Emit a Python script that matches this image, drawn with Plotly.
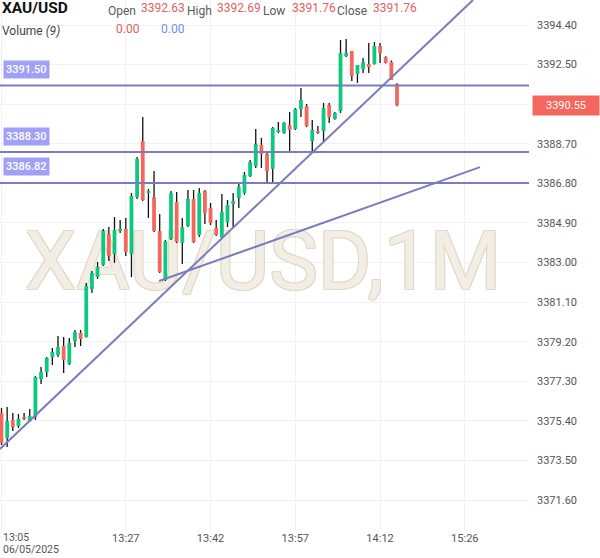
import plotly.graph_objects as go

# ---------------- data ----------------
opens = [3375.78, 3374.58, 3375.44, 3375.15, 3375.58, 3375.39, 3375.58, 3377.41, 3377.74, 3378.46,
         3378.56, 3378.99, 3378.13, 3379.23, 3379.62, 3379.42, 3381.73, 3382.30, 3382.88, 3384.37,
         3383.41, 3384.51, 3384.61, 3383.41, 3386.14, 3388.83, 3386.34, 3386.14, 3384.51, 3382.16,
         3384.13, 3385.90, 3383.94, 3384.75, 3386.05, 3384.32, 3386.43, 3385.62, 3384.66, 3384.22,
         3384.94, 3385.81, 3386.10, 3386.34, 3387.15, 3387.63, 3388.64, 3388.21, 3387.49, 3389.26,
         3389.22, 3389.60, 3389.41, 3390.37, 3390.51, 3388.83, 3389.31, 3389.31, 3390.56, 3389.89,
         3390.27, 3392.91, 3393.15, 3392.05, 3392.29, 3392.53, 3392.53, 3393.39, 3392.86, 3392.63,
         3391.55]
highs = [3376.02, 3376.06, 3375.78, 3375.73, 3375.78, 3375.97, 3377.55, 3377.98, 3378.46, 3378.90,
         3379.47, 3379.42, 3379.38, 3379.76, 3379.76, 3382.02, 3382.59, 3383.02, 3384.61, 3384.70,
         3385.18, 3385.04, 3385.14, 3386.34, 3388.06, 3389.98, 3386.53, 3387.39, 3385.33, 3384.08,
         3386.43, 3386.38, 3385.14, 3386.48, 3386.48, 3386.58, 3386.48, 3385.86, 3385.04, 3386.29,
         3386.00, 3386.34, 3386.82, 3387.34, 3387.92, 3389.41, 3388.98, 3388.30, 3389.50, 3389.74,
         3389.74, 3390.22, 3390.42, 3391.38, 3390.61, 3389.84, 3389.55, 3390.66, 3390.66, 3390.22,
         3393.68, 3393.73, 3393.15, 3392.48, 3392.82, 3393.54, 3393.58, 3393.54, 3392.90, 3392.69,
         3391.60]
lows = [3374.24, 3374.14, 3374.91, 3375.06, 3375.44, 3375.34, 3375.44, 3377.17, 3377.50, 3378.08,
        3378.46, 3377.70, 3378.08, 3378.94, 3378.99, 3379.40, 3381.54, 3382.21, 3382.83, 3383.07,
        3382.98, 3384.42, 3383.31, 3382.30, 3386.05, 3385.95, 3385.14, 3384.46, 3382.50, 3382.11,
        3384.08, 3383.94, 3382.93, 3384.70, 3383.94, 3384.22, 3384.85, 3384.80, 3384.27, 3384.18,
        3384.70, 3384.66, 3385.62, 3386.25, 3387.10, 3387.54, 3387.54, 3386.82, 3386.82, 3389.22,
        3389.18, 3388.35, 3389.36, 3389.98, 3389.50, 3388.26, 3389.17, 3388.74, 3389.70, 3389.85,
        3390.18, 3392.87, 3391.71, 3391.62, 3392.10, 3392.10, 3392.50, 3392.58, 3392.55, 3391.76,
        3390.50]
closes = [3374.34, 3375.39, 3375.10, 3375.49, 3375.49, 3375.63, 3377.50, 3377.74, 3378.42, 3378.70,
          3378.94, 3378.32, 3379.14, 3379.66, 3379.33, 3381.87, 3382.50, 3382.78, 3384.51, 3383.31,
          3384.56, 3384.61, 3383.50, 3386.19, 3387.97, 3386.00, 3386.43, 3384.51, 3382.54, 3384.03,
          3386.34, 3383.98, 3384.70, 3386.05, 3383.98, 3386.34, 3385.38, 3384.90, 3384.32, 3385.42,
          3385.76, 3385.95, 3386.62, 3387.20, 3387.82, 3388.69, 3388.21, 3387.39, 3389.46, 3389.36,
          3389.70, 3389.36, 3390.37, 3390.80, 3389.55, 3389.36, 3389.22, 3390.42, 3389.98, 3390.18,
          3393.06, 3393.06, 3391.95, 3392.48, 3392.62, 3392.38, 3393.39, 3393.06, 3392.58, 3391.76,
          3390.55]

x_tick_idx = [0, 22, 37, 52, 67, 82]
x_tick_text = ["", "13:27", "13:42", "13:57", "14:12", "15:26"]
first_tick_time = "13:05"
first_tick_date = "06/05/2025"

y_tick_vals = [3371.60, 3373.50, 3375.40, 3377.30, 3379.20, 3381.10, 3383.00,
               3384.90, 3386.80, 3388.70, 3390.60, 3392.50, 3394.40]
y_tick_text = ["3371.60", "3373.50", "3375.40", "3377.30", "3379.20", "3381.10", "3383.00",
               "3384.90", "3386.80", "3388.70", "", "3392.50", "3394.40"]

h_levels = [3391.50, 3388.30, 3386.82]
h_level_text = ["3391.50", "3388.30", "3386.82"]

# trend lines: (x0, y0, x1, y1) in candle-index / price units
trend_lines = [(-0.265, 3374.05, 83.45, 3395.60),
               (27.88, 3382.11, 84.69, 3387.58)]

last_price = 3390.55
last_price_text = "3390.55"

header_ohlc = ["3392.63", "3392.69", "3391.76", "3391.76"]
volume_vals = ["0.00", "0.00"]

# ---------------- styles ----------------
GREEN = "#0dc97f"
RED = "#f5675c"
LINE = "#7b7bbf"
LABEL_BG = "#a0a0f6"
FONT = "Roboto"

PLOT_W, PLOT_H = 529, 530


def px_x(px):
    return px / PLOT_W


def px_y(py):
    return 1 - py / PLOT_H


n = len(opens)
xs = list(range(n))

# wicks
wx, wy = [], []
for i in xs:
    wx += [i, i, None]
    wy += [lows[i], highs[i], None]

# bodies
gx, gy, rx, ry = [], [], [], []
for i in xs:
    o, c = opens[i], closes[i]
    lo, hi = min(o, c), max(o, c)
    if hi - lo < 0.05:
        m = (hi + lo) / 2
        lo, hi = m - 0.025, m + 0.025
    if c >= o:
        gx += [i, i, None]
        gy += [lo, hi, None]
    else:
        rx += [i, i, None]
        ry += [lo, hi, None]

fig = go.Figure()

# watermark (first => behind)
fig.add_trace(go.Scatter(
    x=[46.3], y=[3382.70], mode="text", text=["XAU/USD,1M"],
    textfont=dict(family="Roboto", size=82, color="#f2eee6",
                  shadow="1px 1px 0 #e2d9c6, -1px -1px 0 #e2d9c6, 1px -1px 0 #e2d9c6, -1px 1px 0 #e2d9c6"),
    hoverinfo="skip", showlegend=False))

fig.add_trace(go.Scatter(x=wx, y=wy, mode="lines", line=dict(color="#111111", width=1.3),
                         hoverinfo="skip", showlegend=False))
fig.add_trace(go.Scatter(x=gx, y=gy, mode="lines", line=dict(color=GREEN, width=3.8),
                         hoverinfo="skip", showlegend=False))
fig.add_trace(go.Scatter(x=rx, y=ry, mode="lines", line=dict(color=RED, width=3.8),
                         hoverinfo="skip", showlegend=False))

shapes = []
for lv in h_levels:
    shapes.append(dict(type="line", xref="paper", yref="y", x0=0, x1=1, y0=lv, y1=lv,
                       line=dict(color=LINE, width=2)))
for (x0, y0, x1, y1) in trend_lines:
    shapes.append(dict(type="line", xref="x", yref="y", x0=x0, y0=y0, x1=x1, y1=y1,
                       line=dict(color=LINE, width=2)))

ann = []
for lv, t in zip(h_levels, h_level_text):
    ann.append(dict(xref="paper", yref="y", x=px_x(3), y=lv, xanchor="left", yanchor="middle",
                    yshift=16, text=t, showarrow=False, bgcolor=LABEL_BG, borderpad=2,
                    font=dict(family=FONT, size=11, color="white", weight=500)))

ann.append(dict(xref="paper", yref="y", x=px_x(532), y=last_price, xanchor="left", yanchor="middle",
                text=last_price_text, showarrow=False, bgcolor=RED, borderpad=3, width=60,
                font=dict(family=FONT, size=11, color="white")))

# first x tick label (time + date)
ann.append(dict(xref="paper", yref="paper", x=px_x(1), y=px_y(537.5), xanchor="left", yanchor="middle",
                text=first_tick_time, showarrow=False, align="left",
                font=dict(family=FONT, size=10.5, color="#555555")))
ann.append(dict(xref="paper", yref="paper", x=px_x(1), y=px_y(549), xanchor="left", yanchor="middle",
                text=first_tick_date, showarrow=False, align="left",
                font=dict(family=FONT, size=10.5, color="#555555")))

# header
GREY = "#5a5a5a"
VAL = "#e0625c"
ann.append(dict(xref="paper", yref="paper", x=px_x(0), y=px_y(8), xanchor="left", yanchor="middle",
                text="<b>XAU/USD</b>", showarrow=False, font=dict(family=FONT, size=15.5, color="#111111")))
labels = [("Open", 106), ("High", 185), ("Low", 261), ("Close", 335)]
vals_x = [139, 215, 290, 371]
for (lab, lx), v, vx in zip(labels, header_ohlc, vals_x):
    ann.append(dict(xref="paper", yref="paper", x=px_x(lx), y=px_y(10.5), xanchor="left", yanchor="middle",
                    text=lab, showarrow=False, font=dict(family=FONT, size=12, color=GREY)))
    ann.append(dict(xref="paper", yref="paper", x=px_x(vx), y=px_y(7.5), xanchor="left", yanchor="middle",
                    text=v, showarrow=False, font=dict(family=FONT, size=12, color=VAL)))
ann.append(dict(xref="paper", yref="paper", x=px_x(0), y=px_y(30.5), xanchor="left", yanchor="middle",
                text="Volume <i>(9)</i>", showarrow=False, font=dict(family=FONT, size=12, color="#444444")))
ann.append(dict(xref="paper", yref="paper", x=px_x(114), y=px_y(28.5), xanchor="left", yanchor="middle",
                text=volume_vals[0], showarrow=False, font=dict(family=FONT, size=12, color=VAL)))
ann.append(dict(xref="paper", yref="paper", x=px_x(159), y=px_y(28.5), xanchor="left", yanchor="middle",
                text=volume_vals[1], showarrow=False, font=dict(family=FONT, size=12, color="#6b8ff0")))

fig.update_layout(
    width=600, height=558,
    margin=dict(l=0, r=600 - PLOT_W, t=0, b=558 - PLOT_H),
    paper_bgcolor="white", plot_bgcolor="white",
    showlegend=False,
    font=dict(family=FONT, color="#555555"),
    shapes=shapes, annotations=ann,
    xaxis=dict(range=[-0.265, (PLOT_W - 1.5) / 5.65], tickvals=x_tick_idx, ticktext=x_tick_text,
               showgrid=True, gridcolor="#f1f1f1", gridwidth=1, zeroline=False, showline=False,
               ticks="", tickfont=dict(family=FONT, size=11, color="#555555"), fixedrange=True),
    yaxis=dict(range=[3370.16, 3395.60], side="right", tickvals=y_tick_vals, ticktext=y_tick_text,
               showgrid=True, gridcolor="#f1f1f1", gridwidth=1, zeroline=False, showline=False,
               ticks="", ticklabelstandoff=7,
               tickfont=dict(family=FONT, size=11, color="#555555"), fixedrange=True),
)

fig.write_html("out.html")
